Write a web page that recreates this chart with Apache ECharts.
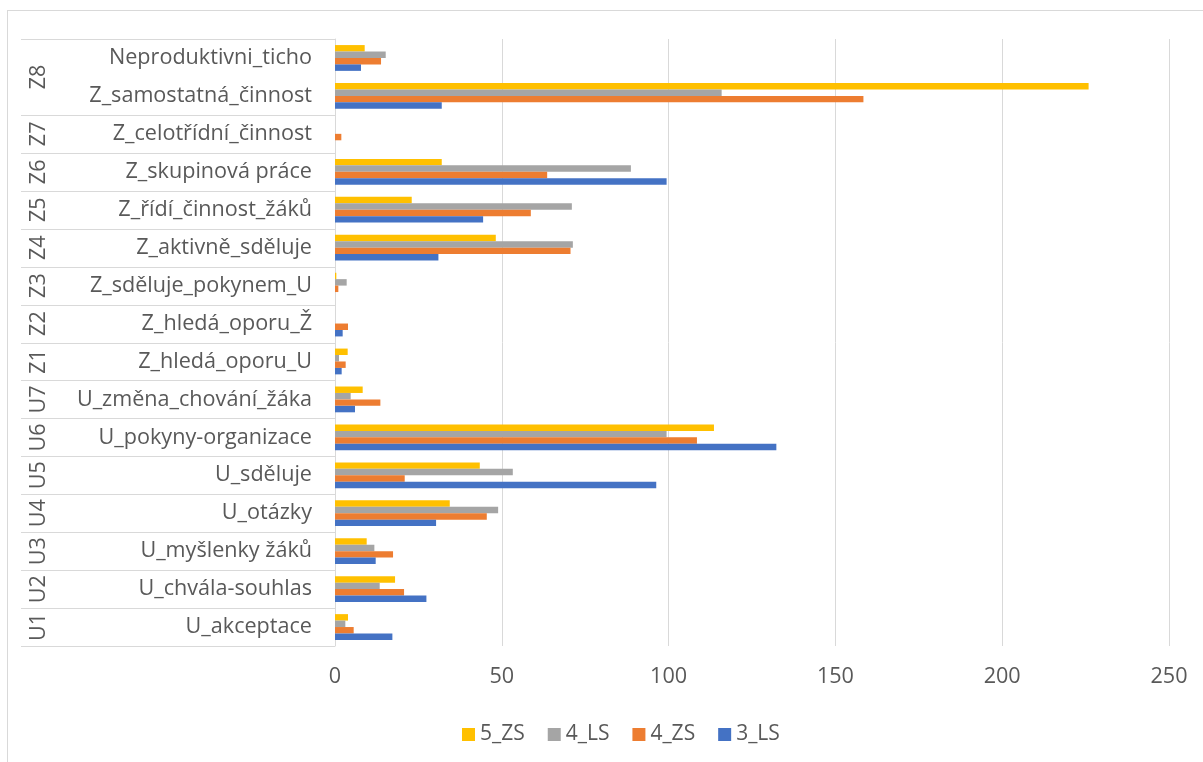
<!DOCTYPE html>
<html>
<head>
<meta charset="utf-8">
<script src="https://cdn.jsdelivr.net/npm/echarts@6/dist/echarts.min.js"></script>
<style>
  html, body { margin: 0; padding: 0; background: #ffffff; overflow: hidden; }
  #frame { position: absolute; left: 7px; top: 10px; width: 2000px; height: 2000px;
           border: 1px solid #d9d9d9; box-sizing: border-box; }
  #chart { position: absolute; left: 0; top: 0; width: 1203px; height: 762px; }
</style>
</head>
<body>
<div id="frame"></div>
<div id="chart"></div>
<script>
// Categories listed bottom to top, with their group codes
const categories = [
  'U_akceptace', 'U_chvála-souhlas', 'U_myšlenky žáků', 'U_otázky', 'U_sděluje',
  'U_pokyny-organizace', 'U_změna_chování_žáka', 'Z_hledá_oporu_U', 'Z_hledá_oporu_Ž',
  'Z_sděluje_pokynem_U', 'Z_aktivně_sděluje', 'Z_řídí_činnost_žáků', 'Z_skupinová práce',
  'Z_celotřídní_činnost', 'Z_samostatná_činnost', 'Neproduktivni_ticho'
];
const groups = ['U1', 'U2', 'U3', 'U4', 'U5', 'U6', 'U7', 'Z1', 'Z2', 'Z3', 'Z4', 'Z5', 'Z6', 'Z7', 'Z8', 'Z8'];

// Series values, same order as categories
const s5ZS = [3.9, 18, 9.5, 34.4, 43.4, 113.6, 8.3, 3.8, 0, 0.4, 48.2, 23, 32, 0, 225.9, 8.9];
const s4LS = [3.1, 13.4, 11.8, 48.9, 53.3, 99.4, 4.7, 1.2, 0, 3.5, 71.3, 71, 88.7, 0, 115.9, 15.2];
const s4ZS = [5.6, 20.7, 17.4, 45.5, 20.9, 108.5, 13.6, 3.2, 3.9, 1, 70.6, 58.7, 63.6, 1.9, 158.4, 13.8];
const s3LS = [17.2, 27.4, 12.2, 30.3, 96.3, 132.3, 6, 2, 2.3, 0, 31, 44.4, 99.4, 0, 32, 7.8];

const seriesNames = ['5_ZS', '4_LS', '4_ZS', '3_LS'];
const seriesValues = [s5ZS, s4LS, s4ZS, s3LS];
const seriesColors = ['#FFC000', '#A5A5A5', '#ED7D31', '#4472C4'];

const xTicks = { min: 0, max: 250, interval: 50 };

const FONT = '"Open Sans", "Noto Sans", sans-serif';
const FONT_SIZE = 21.6;
const TEXT = '#595959';
const LINE = '#d9d9d9';
const TABLE_LEFT = 21;

const chart = echarts.init(document.getElementById('chart'), null, { renderer: 'canvas' });

chart.setOption({
  animation: false,
  backgroundColor: 'transparent',
  textStyle: { fontFamily: FONT },
  grid: { left: 335, right: 34, top: 39, bottom: 116, containLabel: false },
  legend: {
    data: seriesNames,
    left: 457,
    top: 719,
    icon: 'rect',
    itemWidth: 13,
    itemHeight: 13,
    itemGap: 23,
    textStyle: { fontFamily: FONT, fontSize: 21, color: TEXT }
  },
  xAxis: {
    type: 'value',
    min: xTicks.min,
    max: xTicks.max,
    interval: xTicks.interval,
    axisLine: { show: false },
    axisTick: { show: false },
    splitLine: { show: true, lineStyle: { color: LINE, width: 1 } },
    axisLabel: { fontFamily: FONT, fontSize: FONT_SIZE, color: TEXT, margin: 20 }
  },
  yAxis: {
    type: 'category',
    data: categories,
    axisLine: { show: true, lineStyle: { color: LINE, width: 1 } },
    axisTick: { show: false },
    axisLabel: { fontFamily: FONT, fontSize: FONT_SIZE, color: TEXT, margin: 23, interval: 0 },
    splitLine: { show: false }
  },
  series: seriesNames.map(function (name, i) {
    return {
      name: name,
      type: 'bar',
      data: seriesValues[i],
      barGap: '0%',
      barCategoryGap: '32%',
      itemStyle: { color: seriesColors[i] }
    };
  })
});

// Row centres from the category axis
const centers = categories.map(function (c) {
  return chart.convertToPixel({ yAxisIndex: 0 }, c);
});
const step = centers[0] - centers[1];
const axisX = chart.convertToPixel({ xAxisIndex: 0 }, xTicks.min);

// Table dividers: bottom edge of each group, plus the top edge
const dividers = [];
groups.forEach(function (g, i) {
  if (i === 0 || g !== groups[i - 1]) dividers.push(centers[i] + step / 2);
});
dividers.push(centers[centers.length - 1] - step / 2);

// Group codes, rotated, centred on the rows they span
const groupRows = {};
const groupOrder = [];
groups.forEach(function (g, i) {
  if (!groupRows[g]) { groupRows[g] = []; groupOrder.push(g); }
  groupRows[g].push(centers[i]);
});

const graphics = dividers.map(function (y) {
  const yy = Math.round(y) + 0.5;
  return {
    type: 'line',
    shape: { x1: TABLE_LEFT, y1: yy, x2: axisX, y2: yy },
    style: { stroke: LINE, lineWidth: 1 },
    silent: true
  };
}).concat(groupOrder.map(function (g) {
  const ys = groupRows[g];
  const y = ys.reduce(function (a, b) { return a + b; }, 0) / ys.length;
  return {
    type: 'text',
    x: 39,
    y: y,
    rotation: Math.PI / 2,
    style: {
      text: g,
      fontFamily: FONT,
      fontSize: FONT_SIZE,
      fill: TEXT,
      align: 'center',
      verticalAlign: 'middle'
    },
    silent: true
  };
}));

chart.setOption({ graphic: graphics });
</script>
</body>
</html>
